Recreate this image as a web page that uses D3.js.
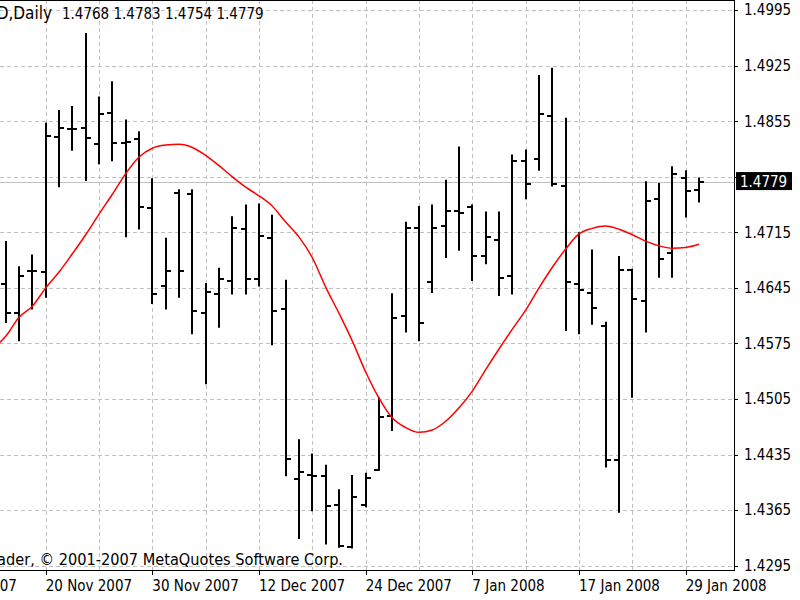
<!DOCTYPE html>
<html>
<head>
    <meta charset="utf-8">
    <script src="https://cdn.jsdelivr.net/npm/d3@7"></script>
</head>
<body style="margin:0;background:#fff">
<style>
    text{
        font-family:"DejaVu Sans Condensed","DejaVu Sans",sans-serif;
        font-stretch:condensed;
        font-size:15px;
        fill:#000;
    }
    .grid{
        stroke:#c0c0c0;
        stroke-dasharray:4,3;
        fill:none;
    }
    .bar{
        stroke:#000;
        stroke-width:2;
        fill:none;
    }
    #ma{
        fill:none;
        stroke:#ff0000;
        stroke-width:1.5;
    }
</style>
<script>
    var w=800,
        h=600;

    // trading days, first one is only partly off screen
    var dates=['14 Nov','15 Nov','16 Nov','19 Nov','20 Nov','21 Nov','22 Nov','23 Nov','26 Nov','27 Nov','28 Nov','29 Nov','30 Nov',
        '3 Dec','4 Dec','5 Dec','6 Dec','7 Dec','10 Dec','11 Dec','12 Dec','13 Dec','14 Dec','17 Dec','18 Dec','19 Dec','20 Dec','21 Dec','24 Dec','26 Dec','27 Dec','28 Dec','31 Dec',
        '2 Jan','3 Jan','4 Jan','7 Jan','8 Jan','9 Jan','10 Jan','11 Jan','14 Jan','15 Jan','16 Jan','17 Jan','18 Jan','21 Jan','22 Jan','23 Jan','24 Jan','25 Jan','28 Jan','29 Jan','30 Jan'];

    var open=[null,1.4650,1.4614,1.4666,1.4665,1.4835,1.4845,1.4847,1.4826,1.4866,1.4828,1.4833,1.4746,
        1.4647,1.4765,1.4763,1.4614,1.4637,1.4654,1.4719,1.4656,1.4708,1.4618,1.4404,1.4409,1.4408,1.4372,1.4318,1.4372,1.4416,1.4484,1.4610,1.4721,
        1.4652,1.4723,1.4742,1.4747,1.4685,1.4706,1.4660,1.4805,1.4807,1.4862,1.4774,1.4650,1.4639,1.4597,1.4428,1.4668,1.4629,1.4757,1.4689,1.4784,1.4768];
    var high=[null,1.4703,1.4671,1.4686,1.4852,1.4868,1.4873,1.4965,1.4885,1.4904,1.4856,1.4841,1.4782,
        1.4707,1.4768,1.4768,1.4650,1.4669,1.4734,1.4749,1.4750,1.4736,1.4654,1.4453,1.4435,1.4421,1.4390,1.4408,1.4411,1.4506,1.4637,1.4727,1.4747,
        1.4749,1.4780,1.4822,1.4749,1.4740,1.4740,1.4812,1.4818,1.4912,1.4921,1.4858,1.4714,1.4692,1.4601,1.4684,1.4668,1.4778,1.4776,1.4797,1.4792,1.4783];
    var low=[null,1.4602,1.4579,1.4619,1.4634,1.4773,1.4819,1.4781,1.4802,1.4806,1.4710,1.4720,1.4626,
        1.4619,1.4634,1.4588,1.4525,1.4596,1.4638,1.4638,1.4648,1.4574,1.4409,1.4330,1.4365,1.4323,1.4319,1.4318,1.4370,1.4416,1.4466,1.4590,1.4579,
        1.4640,1.4684,1.4693,1.4655,1.4676,1.4636,1.4638,1.4758,1.4794,1.4774,1.4592,1.4588,1.4600,1.4420,1.4363,1.4508,1.4590,1.4659,1.4659,1.4735,1.4754];
    var close=[null,1.4614,1.4660,1.4666,1.4836,1.4847,1.4845,1.4834,1.4864,1.4828,1.4829,1.4747,1.4637,
        1.4666,1.4666,1.4616,1.4640,1.4656,1.4721,1.4656,1.4711,1.4616,1.4429,1.4413,1.4408,1.4370,1.4320,1.4381,1.4406,1.4482,1.4607,1.4721,1.4601,
        1.4721,1.4742,1.4740,1.4685,1.4709,1.4658,1.4805,1.4776,1.4864,1.4776,1.4652,1.4642,1.4620,1.4428,1.4668,1.4631,1.4755,1.4681,1.4788,1.4767,1.4779];

    // moving average (red)
    var ma=[1.4568,1.4584,1.4608,1.4622,1.4645,1.4665,1.4688,1.4712,1.4738,1.4763,1.4789,1.4810,1.4821,
        1.4825,1.4826,1.4822,1.4812,1.4799,1.4785,1.4772,1.4761,1.4748,1.4728,1.4709,1.4683,1.4646,1.4613,1.4578,1.4539,1.4506,1.4481,1.4469,1.4463,
        1.4466,1.4477,1.4494,1.4515,1.4542,1.4568,1.4593,1.4617,1.4645,1.4671,1.4694,1.4713,1.4720,1.4723,1.4719,1.4712,1.4704,1.4698,1.4695,1.4696,1.4700];

    var priceTicks=[1.4295,1.4365,1.4435,1.4505,1.4575,1.4645,1.4715,1.4785,1.4855,1.4925,1.4995];
    var dateLabels=['8 Nov 2007','20 Nov 2007','30 Nov 2007','12 Dec 2007','24 Dec 2007','7 Jan 2008','17 Jan 2008','29 Jan 2008'];
    var firstLabelDate='20 Nov';
    var symbol='EURUSD,Daily';
    var copyright='MetaTrader, \u00a9 2001-2007 MetaQuotes Software Corp.';

    var plotRight=734,
        plotBottom=570;

    var svg=d3.select('body').append('svg').attr('width',w).attr('height',h);

    var x=d3.scaleLinear().domain([0,dates.length-1]).range([-7.63,-7.63+13.333*(dates.length-1)]);
    var y=d3.scaleLinear().domain([1.4295,1.4925]).range([565.7,65.7]);

    svg.append('clipPath').attr('id','plot').append('rect')
        .attr('x',0).attr('y',0).attr('width',plotRight).attr('height',plotBottom);

    var plot=svg.append('g').attr('clip-path','url(#plot)');

    //grid
    plot.selectAll('line.hgrid').data(priceTicks).enter().append('line')
        .attr('class','grid')
        .attr('x1',0).attr('x2',plotRight)
        .attr('y1',function(d){return Math.round(y(d))+0.5})
        .attr('y2',function(d){return Math.round(y(d))+0.5});

    var vIdx=d3.range(0,dates.length,4);
    plot.selectAll('line.vgrid').data(vIdx).enter().append('line')
        .attr('class','grid')
        .attr('x1',function(d){return Math.round(x(d))+0.5})
        .attr('x2',function(d){return Math.round(x(d))+0.5})
        .attr('y1',0).attr('y2',plotBottom);

    var last=close[close.length-1];
    plot.append('line')
        .attr('x1',0).attr('x2',plotRight)
        .attr('y1',Math.round(y(last))+0.5).attr('y2',Math.round(y(last))+0.5)
        .attr('stroke','#c0c0c0');

    //bars
    var idx=d3.range(dates.length).filter(function(i){return open[i]!==null});
    var bars=plot.selectAll('g.bar').data(idx).enter().append('g').attr('class','bar');
    bars.append('line')
        .attr('x1',function(i){return Math.round(x(i))})
        .attr('x2',function(i){return Math.round(x(i))})
        .attr('y1',function(i){return y(high[i])-1})
        .attr('y2',function(i){return y(low[i])+1});
    bars.append('line')
        .attr('x1',function(i){return Math.round(x(i))-5})
        .attr('x2',function(i){return Math.round(x(i))})
        .attr('y1',function(i){return Math.round(y(open[i]))})
        .attr('y2',function(i){return Math.round(y(open[i]))});
    bars.append('line')
        .attr('x1',function(i){return Math.round(x(i))})
        .attr('x2',function(i){return Math.round(x(i))+5})
        .attr('y1',function(i){return Math.round(y(close[i]))})
        .attr('y2',function(i){return Math.round(y(close[i]))});

    var line=d3.line()
        .x(function(d,i){return x(i)})
        .y(function(d){return y(d)})
        .curve(d3.curveMonotoneX);
    plot.append('path').attr('id','ma').attr('d',line(ma));

    //texts in the plot
    svg.append('text').attr('x',52).attr('y',19).attr('text-anchor','end').style('font-size','17px').text(symbol);
    svg.append('text').attr('x',62).attr('y',19)
        .text([open,high,low,close].map(function(a){return a[a.length-1].toFixed(4)}).join(' '));
    svg.append('text').attr('x',343).attr('y',565).attr('text-anchor','end').style('font-size','16.2px').text(copyright);

    //frame
    svg.append('line').attr('x1',0).attr('x2',plotRight).attr('y1',0.5).attr('y2',0.5).attr('stroke','#000');
    svg.append('line').attr('x1',0).attr('x2',plotRight+1).attr('y1',plotBottom+0.5).attr('y2',plotBottom+0.5).attr('stroke','#000');
    svg.append('line').attr('x1',plotRight+0.5).attr('x2',plotRight+0.5).attr('y1',0).attr('y2',plotBottom+1).attr('stroke','#000');

    //price axis; the label under the current price box is not drawn
    var ya=svg.append('g');
    ya.selectAll('line').data(priceTicks).enter().append('line')
        .attr('x1',plotRight).attr('x2',plotRight+4)
        .attr('y1',function(d){return Math.round(y(d))+0.5})
        .attr('y2',function(d){return Math.round(y(d))+0.5})
        .attr('stroke','#000');
    ya.selectAll('text').data(priceTicks.filter(function(d){return Math.abs(y(d)-y(last))>14})).enter().append('text')
        .attr('x',744)
        .attr('y',function(d){return y(d)})
        .attr('dy','0.35em')
        .text(function(d){return d.toFixed(4)});

    //current price label
    svg.append('rect').attr('x',736).attr('y',y(last)-9.5).attr('width',56).attr('height',18).attr('fill','#000');
    svg.append('text').attr('x',740).attr('y',y(last)).attr('dy','0.35em').style('fill','#fff').text(last.toFixed(4));

    //date axis
    var start=dates.indexOf(firstLabelDate)-8;
    var xa=svg.append('g');
    xa.selectAll('line').data(dateLabels).enter().append('line')
        .attr('x1',function(d,k){return Math.round(x(start+8*k))+0.5})
        .attr('x2',function(d,k){return Math.round(x(start+8*k))+0.5})
        .attr('y1',plotBottom).attr('y2',plotBottom+5)
        .attr('stroke','#000');
    xa.selectAll('text').data(dateLabels).enter().append('text')
        .attr('x',function(d,k){return x(start+8*k)})
        .attr('y',591)
        .text(function(d){return d});
</script>
</body>
</html>
